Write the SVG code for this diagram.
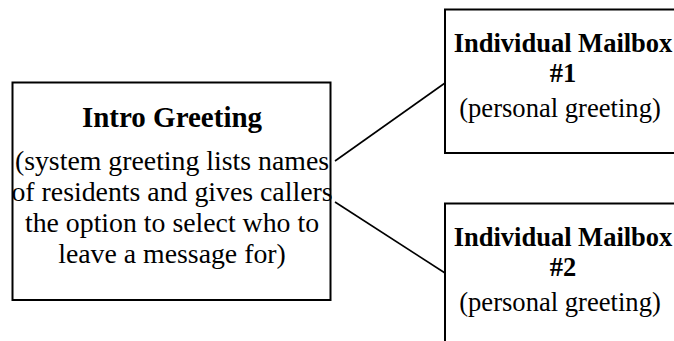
<svg xmlns="http://www.w3.org/2000/svg" width="674" height="341" viewBox="0 0 674 341">
<style>
.box{fill:#fff;stroke:#000;stroke-width:2}
.t{font-family:"Liberation Serif","Times New Roman",serif;fill:#000;text-anchor:middle}
.title{font-weight:bold}
.conn{stroke:#000;stroke-width:1.6;fill:none}
</style>
<rect width="674" height="341" fill="#fff"/>
<g id="connectors">
<line class="conn" x1="335" y1="161" x2="445" y2="83"/>
<line class="conn" x1="335" y1="202" x2="445" y2="273"/>
</g>
<g id="intro">
<rect class="box" x="12.5" y="82.5" width="318" height="217.5"/>
<text class="t title" x="172" y="127" font-size="29">Intro Greeting</text>
<text class="t" x="172" y="170" font-size="27.8">(system greeting lists names</text>
<text class="t" x="172" y="201" font-size="27.8">of residents and gives callers</text>
<text class="t" x="172" y="232" font-size="27.8">the option to select who to</text>
<text class="t" x="172" y="263" font-size="27.8">leave a message for)</text>
</g>
<g id="mailbox1">
<rect class="box" x="445" y="9.5" width="240" height="143.5"/>
<text class="t title" x="563" y="52" font-size="26.5">Individual Mailbox</text>
<text class="t title" x="563" y="82" font-size="26.5">#1</text>
<text class="t" x="560" y="117" font-size="26.6">(personal greeting)</text>
</g>
<g id="mailbox2">
<rect class="box" x="445" y="203.5" width="240" height="143.5"/>
<text class="t title" x="563" y="246" font-size="26.5">Individual Mailbox</text>
<text class="t title" x="563" y="276" font-size="26.5">#2</text>
<text class="t" x="560" y="311" font-size="26.6">(personal greeting)</text>
</g>
</svg>
